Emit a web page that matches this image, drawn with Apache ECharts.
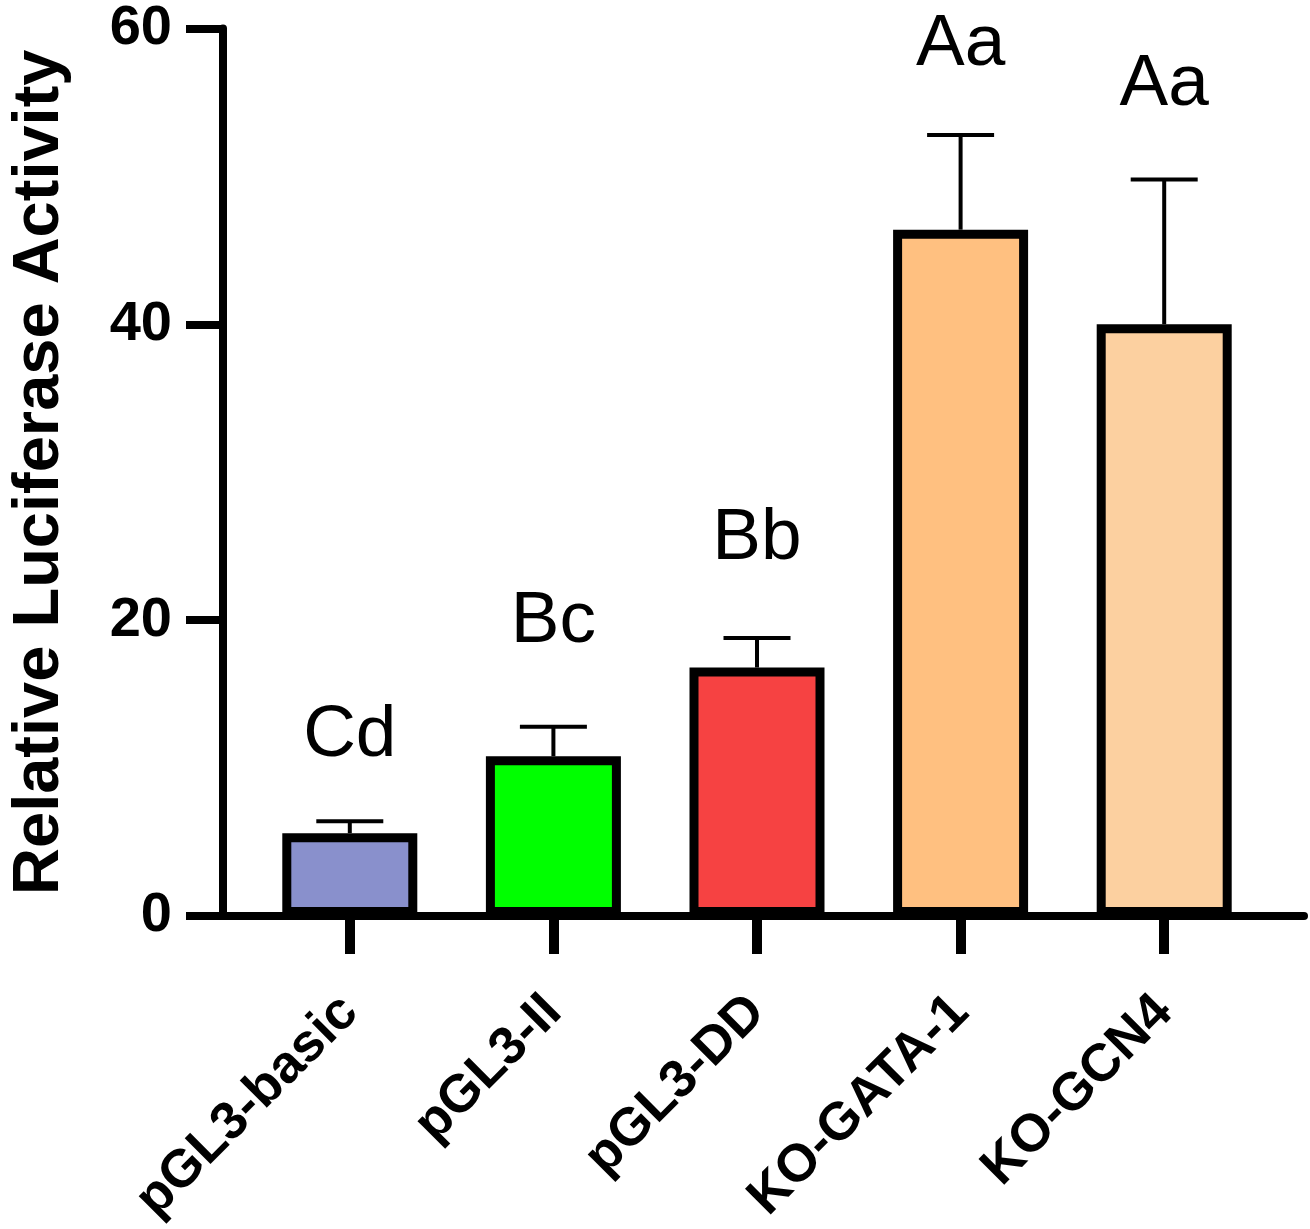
<!DOCTYPE html>
<html>
<head>
<meta charset="utf-8">
<script src="https://cdn.jsdelivr.net/npm/echarts@6/dist/echarts.min.js"></script>
<style>
html,body{margin:0;padding:0;background:#fff;}
#chart{width:1310px;height:1229px;}
</style>
</head>
<body>
<div id="chart"></div>
<script>
// ---- data ----
var categories = ['pGL3-basic', 'pGL3-II', 'pGL3-DD', 'KO-GATA-1', 'KO-GCN4'];
var means = [5.6, 10.8, 16.8, 46.4, 40.0];
var sd = [0.8, 2.0, 2.0, 6.4, 9.8];
var letters = ['Cd', 'Bc', 'Bb', 'Aa', 'Aa'];
var letterPos = [12.2, 19.9, 25.5, 58.9, 56.2];
var barColors = ['#8990CC', '#00FF00', '#F64242', '#FFC080', '#FCD0A0'];
var yMin = 0, yMax = 60, yStep = 20;
var yTitle = 'Relative Luciferase Activity';

var FONT = "'Liberation Sans', Arial, Helvetica, sans-serif";

var chart = echarts.init(document.getElementById('chart'), null, {renderer: 'canvas'});

var barData = means.map(function (v, i) {
  return {value: v, itemStyle: {color: barColors[i], borderColor: '#000', borderWidth: 9}};
});
var errData = means.map(function (v, i) { return [i, v, v + sd[i]]; });
var letterData = letters.map(function (t, i) { return [i, letterPos[i], t]; });

var option = {
  backgroundColor: '#fff',
  animation: false,
  grid: [
    {left: 215, right: 6, top: 28.5, bottom: 313},
    {left: 248, right: 44, top: 28.5, bottom: 313}
  ],
  xAxis: [
    {
      gridIndex: 0, type: 'value', min: 0, max: 1,
      axisLine: {show: true, lineStyle: {color: '#000', width: 8}},
      axisTick: {show: false}, axisLabel: {show: false}, splitLine: {show: false}
    },
    {
      gridIndex: 1, type: 'category', data: categories,
      axisLine: {show: false},
      axisTick: {show: true, alignWithLabel: true, length: 38, lineStyle: {color: '#000', width: 10}},
      axisLabel: {
        interval: 0, rotate: 45, margin: 88,
        fontSize: 53, fontWeight: 'bold', fontFamily: FONT, color: '#000'
      },
      splitLine: {show: false}
    }
  ],
  yAxis: [
    {
      gridIndex: 0, type: 'value', min: yMin, max: yMax, interval: yStep,
      axisLine: {show: true, lineStyle: {color: '#000', width: 8}},
      axisTick: {show: true, length: 37, lineStyle: {color: '#000', width: 8}},
      axisLabel: {margin: 51, fontSize: 56, fontWeight: 'bold', fontFamily: FONT, color: '#000'},
      splitLine: {show: false},
      name: yTitle, nameLocation: 'middle', nameGap: 150,
      nameTextStyle: {fontSize: 65, fontWeight: 'bold', fontFamily: FONT, color: '#000'}
    },
    {
      gridIndex: 1, type: 'value', min: yMin, max: yMax, interval: yStep, show: false
    }
  ],
  series: [
    {
      type: 'custom', xAxisIndex: 1, yAxisIndex: 1, z: 2,
      data: errData,
      renderItem: function (params, api) {
        var x = api.value(0);
        var p0 = api.coord([x, api.value(1)]);
        var p1 = api.coord([x, api.value(2)]);
        var half = 33.5;
        return {
          type: 'group',
          children: [
            {type: 'line', shape: {x1: p0[0], y1: p0[1], x2: p1[0], y2: p1[1]},
             style: {stroke: '#000', lineWidth: 4}},
            {type: 'line', shape: {x1: p1[0] - half, y1: p1[1], x2: p1[0] + half, y2: p1[1]},
             style: {stroke: '#000', lineWidth: 4}}
          ]
        };
      }
    },
    {
      type: 'bar', xAxisIndex: 1, yAxisIndex: 1, z: 3,
      barWidth: 135,
      data: barData
    },
    {
      type: 'custom', xAxisIndex: 1, yAxisIndex: 1, z: 4,
      data: letterData,
      renderItem: function (params, api) {
        var p = api.coord([api.value(0), api.value(1)]);
        return {
          type: 'text', x: p[0], y: p[1],
          style: {
            text: letters[params.dataIndex],
            fontSize: 73, fontFamily: FONT, fontWeight: 'normal',
            fill: '#000', align: 'center', verticalAlign: 'middle'
          }
        };
      }
    }
  ]
};
chart.setOption(option);
</script>
</body>
</html>
